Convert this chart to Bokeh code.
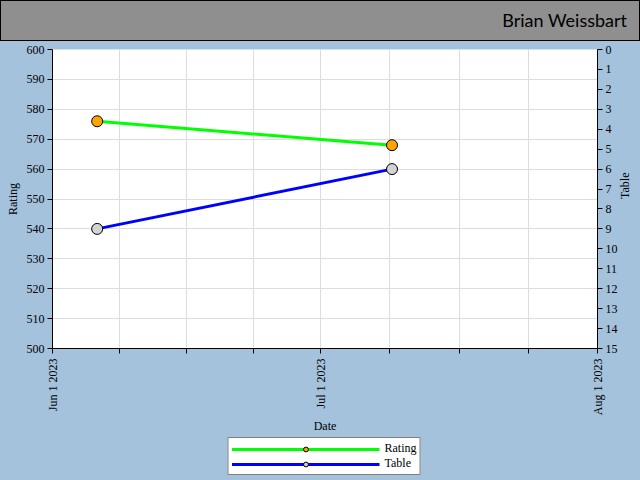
import math
import pandas as pd
from bokeh.plotting import figure
from bokeh.layouts import column
from bokeh.models import (ColumnDataSource, Range1d, LinearAxis, SingleIntervalTicker,
                          FixedTicker, DatetimeTickFormatter, Legend, LegendItem, Div,
                          GlobalInlineStyleSheet)
from bokeh.embed import file_html
from bokeh.resources import INLINE

# ---- data ----
dates = ["2023-06-06", "2023-07-09"]
rating = [576, 568]
table = [9, 6]
month_starts = ["2023-06-01", "2023-07-01", "2023-08-01"]
title_text = "Brian Weissbart"

BG = "#a4c2dc"
FONT = "Liberation Serif"

def ms(d):
    return pd.Timestamp(d).value // 10**6

major = [ms(d) for d in month_starts]
minor = []
for a, b in zip(major[:-1], major[1:]):
    for k in range(1, 4):
        minor.append(a + (b - a) * k / 4)

src = ColumnDataSource(dict(date=pd.to_datetime(dates), rating=rating, table=table))

p = figure(frame_width=545, frame_height=299, x_axis_type="datetime",
           x_range=Range1d(major[0], major[-1]), y_range=Range1d(500, 600),
           output_backend="svg", toolbar_location=None, title=None,
           min_border_left=52, min_border_right=43, min_border_top=8, min_border_bottom=0,
           background_fill_color="white", border_fill_color=BG, outline_line_color=None,
           margin=0)

p.extra_y_ranges = {"table": Range1d(15, 0)}

left = p.left[0]
left.ticker = SingleIntervalTicker(interval=10, num_minor_ticks=0)
left.axis_label = "Rating"

right = LinearAxis(y_range_name="table", axis_label="Table",
                   ticker=SingleIntervalTicker(interval=1, num_minor_ticks=0))
p.add_layout(right, "right")

xax = p.below[0]
xax.ticker = FixedTicker(ticks=major, minor_ticks=minor)
fmt = "%b %-d %Y"
xax.formatter = DatetimeTickFormatter(days=fmt, months=fmt, years=fmt, hours=fmt,
                                      minutes=fmt, seconds=fmt, milliseconds=fmt,
                                      microseconds=fmt, minsec=fmt, hourmin=fmt)
xax.major_label_orientation = math.pi / 2
xax.axis_label = "Date"

for ax in (left, right, xax):
    ax.major_label_text_font = FONT
    ax.major_label_text_font_size = "12px"
    ax.major_label_text_color = "black"
    ax.axis_label_text_font = FONT
    ax.axis_label_text_font_size = "12px"
    ax.axis_label_text_font_style = "normal"
    ax.axis_label_text_color = "black"
    ax.axis_line_color = "black"
    ax.major_tick_line_color = "black"
    ax.minor_tick_line_color = "black"
    ax.major_tick_out = 5
    ax.major_tick_in = 0
    ax.minor_tick_out = 5
    ax.minor_tick_in = 0
    ax.major_label_standoff = 3
    ax.axis_label_standoff = 4

xax.major_label_standoff = 5
xax.axis_label_standoff = 1
right.axis_label_orientation = math.pi / 2

p.xgrid.ticker = xax.ticker
p.xgrid.grid_line_color = "#dddddd"
p.xgrid.minor_grid_line_color = "#dddddd"
p.ygrid.ticker = left.ticker
p.ygrid.grid_line_color = "#dddddd"

g_line = p.line(x="date", y="rating", source=src, line_color="#00ff00", line_width=3)
g_pts = p.scatter(x="date", y="rating", source=src, size=11, fill_color="#ffa500",
                  line_color="black", line_width=1)
b_line = p.line(x="date", y="table", source=src, y_range_name="table",
                line_color="#0000ff", line_width=3)
b_pts = p.scatter(x="date", y="table", source=src, y_range_name="table", size=11,
                  fill_color="#d3d3d3", line_color="black", line_width=1)

# ---- legend in its own strip (renderers there lie outside its view) ----
lp = figure(width=640, height=40, x_range=Range1d(0, 1), y_range=Range1d(0, 1),
            output_backend="svg", toolbar_location=None, title=None,
            min_border=0, margin=0, background_fill_color=BG, border_fill_color=BG,
            outline_line_color=None)
lp.axis.visible = False
lp.grid.visible = False
lg1 = lp.line(x="date", y="rating", source=src, line_color="#00ff00", line_width=3)
lg2 = lp.scatter(x="date", y="rating", source=src, size=11, fill_color="#ffa500",
                 line_color="black", line_width=1)
lb1 = lp.line(x="date", y="table", source=src, line_color="#0000ff", line_width=3)
lb2 = lp.scatter(x="date", y="table", source=src, size=11, fill_color="#d3d3d3",
                 line_color="black", line_width=1)
legend = Legend(items=[LegendItem(label="Rating", renderers=[lg1, lg2]),
                       LegendItem(label="Table", renderers=[lb1, lb2])],
                location="center", orientation="vertical",
                glyph_width=148, glyph_height=12, label_height=12,
                label_text_font=FONT, label_text_font_size="12px",
                label_text_color="black",
                spacing=0, padding=3, margin=0,
                border_line_color="black", border_line_width=1,
                background_fill_color="white", background_fill_alpha=1)
lp.add_layout(legend, "center")

title_div = Div(text=('<div style="font-family: Lato; font-size: 18px; color: black; '
                      'text-align: right; line-height: 39px; width: 626px;">'
                      + title_text + '</div>'),
                width=640, height=41, margin=0,
                styles={"background-color": "#8f8f8f", "border": "1px solid black",
                        "box-sizing": "border-box", "overflow": "hidden"})

layout = column(title_div, p, lp, spacing=0, margin=0,
                stylesheets=[GlobalInlineStyleSheet(css="html, body {margin:0; padding:0; background:%s; overflow:hidden;}" % BG)])

open("out.html", "w").write(file_html(layout, INLINE))
